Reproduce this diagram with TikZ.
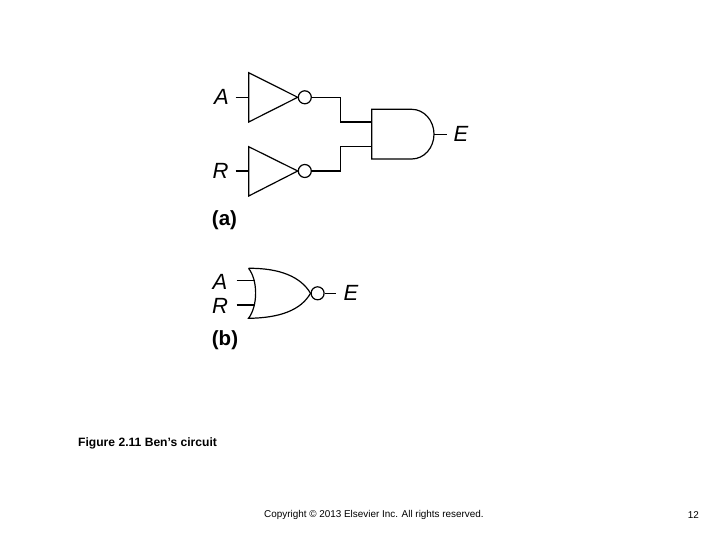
\documentclass[tikz,border=0pt]{standalone}
\usepackage{fontspec}
\setmainfont{Liberation Sans}
\usetikzlibrary{positioning}
\begin{document}
\begin{tikzpicture}[x=1pt,y=-1pt,
  gate/.style={draw,line width=1.2pt,line join=miter},
  wire/.style={draw,line width=1.2pt},
  bubble/.style={draw,circle,line width=1.2pt,inner sep=0pt,minimum size=13pt,fill=white},
  sig/.style={font=\fontsize{22}{22}\selectfont\itshape,inner sep=0pt},
  part/.style={font=\fontsize{20.5}{20.5}\selectfont\bfseries,inner sep=0pt},
  note/.style={font=\fontsize{9.9}{11}\selectfont,inner sep=0pt}]
\useasboundingbox[fill=white] (0,0) rectangle (720,540);
% inverters of part a
\coordinate (invAtop) at (248.7,72.7);
\coordinate (invAbot) at (248.7,122);
\coordinate (invAin) at (248.7,97.3);
\coordinate (invAtip) at (297.7,97.3);
\coordinate (invRtop) at (248.7,146.7);
\coordinate (invRbot) at (248.7,196);
\coordinate (invRin) at (248.7,171);
\coordinate (invRtip) at (297.7,171);
\draw[gate] (invAtop) -- (invAtip) -- (invAbot) -- cycle;
\draw[gate] (invRtop) -- (invRtip) -- (invRbot) -- cycle;
\node[bubble,right=0pt of invAtip] (bubA) {};
\node[bubble,right=0pt of invRtip] (bubR) {};
% and gate
\coordinate (andtl) at (371.7,109.3);
\coordinate (andbl) at (371.7,159);
\coordinate (andA) at (371.7,122);
\coordinate (andR) at (371.7,146.7);
\coordinate (andout) at (434,134.2);
\draw[gate] (andbl) -- (andtl) -- (411.7,109.3) arc[start angle=90,end angle=-90,x radius=22.3pt,y radius=24.85pt] -- cycle;
% labels of part a
\node[sig] (a1) at (221.5,97) {A};
\node[sig] (r1) at (220.5,171) {R};
\node[sig] (e1) at (461,134) {E};
\node[part] (lba) at (224.5,220) {(a)};
\coordinate (a1in) at (235.7,97.3);
\coordinate (r1in) at (235.7,171);
\coordinate (bendA) at (340.7,97.3);
\coordinate (bendR) at (340.7,171);
\coordinate (e1out) at (446.7,134.2);
\draw[wire] (a1in) -- (invAin);
\draw[wire] (r1in) -- (invRin);
\draw[wire] (bubA) -- (bendA) |- (andA);
\draw[wire] (bubR) -- (bendR) |- (andR);
\draw[wire] (andout) -- (e1out);
% nor gate
\coordinate (nortop) at (248.5,268.3);
\coordinate (norbot) at (248.5,318.3);
\coordinate (nortip) at (310.5,293.3);
\draw[gate] (nortop) .. controls (258,280) and (258,306) .. (norbot)
  .. controls (280,318) and (301,310) .. (nortip)
  .. controls (301,277) and (280,268) .. (nortop);
\node[bubble,right=0pt of nortip] (bubN) {};
\node[sig] (a2) at (220,282) {A};
\node[sig] (r2) at (220,306) {R};
\node[sig] (e2) at (351,293) {E};
\node[part] (lbb) at (225,340) {(b)};
\coordinate (a2in) at (236.7,280.3);
\coordinate (r2in) at (236.7,305);
\coordinate (norA) at (254.6,280.3);
\coordinate (norR) at (254.6,305);
\coordinate (e2out) at (336,293.3);
\draw[wire] (a2in) -- (norA);
\draw[wire] (r2in) -- (norR);
\draw[wire] (bubN) -- (e2out);
% caption and footer
\node[note,font=\fontsize{12.1}{13}\selectfont\bfseries,anchor=west] (cap) at (78,443) {Figure 2.11 Ben's circuit};
\node[note,anchor=west] (copy) at (264,514.5) {Copyright © 2013 Elsevier Inc. All rights reserved.};
\node[note,anchor=east] (num) at (699,515) {12};
\end{tikzpicture}
\end{document}
